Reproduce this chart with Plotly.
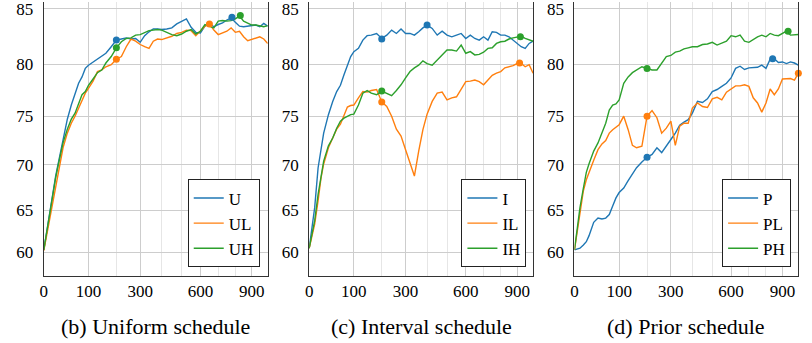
import plotly.graph_objects as go

# ---------------- data ----------------
steps = [0, 5, 10, 15, 20, 30, 40, 50, 60, 70, 80, 90, 100,
         115, 130, 145, 160,
         180, 200, 220, 240, 260, 280, 300,
         320, 340, 360, 380, 400,
         425, 450, 475, 500, 525, 550, 575, 600, 625, 650, 675, 700,
         725, 750, 775, 800, 825, 850, 875, 900, 925, 950, 975, 1000]

U = [60.3, 64.6, 66.8, 68.8, 70.2, 72.8, 74.7, 76.1, 77.1, 78.2, 78.8, 79.6, 79.9,
     80.2, 80.5, 80.8, 81.0,
     81.6, 82.2, 82.3, 82.4, 82.3, 82.35, 82.0,
     82.6, 82.95, 83.2, 83.2, 83.15,
     83.2, 83.3, 83.65, 83.85, 84.1, 83.35, 82.9, 82.85, 83.45, 83.7, 83.4, 83.6,
     83.75, 84.0, 84.2, 83.8, 83.45, 83.4, 83.45, 83.55, 83.55, 83.4, 83.7, 83.45]
UL = [60.2, 63.8, 66.1, 67.9, 69.5, 71.8, 73.3, 74.3, 75.0, 75.8, 76.45, 77.25, 77.7,
      78.4, 79.3, 79.45, 79.75,
      79.95, 80.45, 80.7, 81.6, 82.3, 82.1, 81.8,
      81.6, 81.45, 82.1, 82.3, 82.25,
      82.4, 82.55, 82.8, 82.9, 83.1, 83.05, 82.6, 83.0, 83.45, 83.65, 83.1, 82.7,
      82.85, 83.0, 83.3, 82.9, 83.0, 82.5, 82.15, 82.25, 82.4, 82.5, 82.3, 81.9]
UH = [60.3, 64.5, 66.7, 68.6, 70.0, 72.3, 73.7, 74.7, 75.3, 76.3, 77.1, 77.4, 78.0,
      78.6, 79.2, 79.45, 80.1,
      80.7, 81.5, 82.05, 82.35, 82.4, 82.65, 82.7,
      82.9, 83.05, 83.1, 83.15, 83.1,
      82.9, 82.7, 82.6, 82.75, 83.0, 83.15, 82.75, 83.0, 83.6, 83.45, 83.3, 83.9,
      83.95, 83.9, 83.95, 84.1, 84.35, 83.9, 83.75, 83.55, 83.55, 83.45, 83.4, 83.5]

I = [60.5, 65.3, 69.7, 71.8, 73.3, 75.15, 76.45, 77.4, 78.0, 79.0, 79.9, 80.7, 81.15,
     81.45, 82.2, 82.6, 82.65,
     82.8, 82.35, 82.65, 83.1, 82.8, 83.2, 82.8,
     82.8, 82.65, 82.95, 83.3, 83.55,
     83.25, 82.65, 83.0, 82.65, 82.5, 82.65, 82.8, 82.35, 82.65, 82.35, 82.2, 82.5,
     82.2, 82.95, 82.9, 82.65, 82.65, 82.5, 82.2, 81.85, 81.6, 81.45, 81.9, 82.1]
IL = [60.5, 63.4, 66.1, 68.6, 70.1, 71.8, 72.8, 73.7, 74.2, 75.0, 75.9, 76.05, 76.1,
      76.8, 77.4, 77.35, 77.5,
      77.6, 76.4, 75.95, 75.0, 73.7, 73.0, 71.6,
      70.1, 68.8, 71.45, 73.65, 75.2,
      76.45, 77.25, 77.35, 76.6, 76.8, 76.9, 77.6, 78.35, 78.4, 78.5, 78.35, 78.05,
      78.5, 78.95, 79.15, 79.3, 79.65, 79.75, 79.85, 80.05, 80.05, 79.75, 79.95, 79.15]
IH = [60.5, 63.8, 66.8, 69.0, 70.4, 72.0, 72.8, 73.8, 74.5, 74.8, 75.0, 75.15, 75.2,
      76.1, 77.25, 77.5, 77.25,
      77.1, 77.45, 77.25, 77.0, 77.5, 78.05, 78.7,
      79.3, 79.65, 79.9, 80.3, 80.05,
      79.9, 80.4, 80.85, 81.3, 81.3, 81.2, 81.75, 81.0, 81.15, 80.85, 80.9, 81.1,
      81.45, 81.5, 81.9, 82.05, 82.1, 82.3, 82.4, 82.5, 82.55, 82.35, 82.2, 82.1]

P = [60.3, 60.5, 60.9, 61.3, 62.0, 63.6, 64.1, 64.0, 64.1, 64.5, 65.5, 66.4, 67.0,
     67.5, 68.3, 69.05, 69.7,
     70.3, 70.8, 71.1, 71.8, 71.3, 72.05, 72.65,
     73.3, 74.1, 74.4, 74.65, 75.3,
     76.45, 76.35, 76.7, 77.4, 77.6, 77.9, 78.2, 78.7, 79.6, 79.8, 79.5, 79.65,
     79.7, 79.7, 79.9, 79.6, 80.45, 80.5, 80.15, 80.2, 80.05, 80.2, 80.1, 79.9]
PL = [60.3, 65.0, 67.2, 68.4, 69.2, 70.5, 71.6, 72.2, 72.55, 73.3, 73.65, 73.9, 74.15,
      75.0, 73.65, 72.05, 71.8,
      71.95, 75.0, 75.55, 74.85, 73.3, 73.8, 74.5,
      72.05, 74.0, 74.3, 74.3, 75.8,
      76.3, 75.95, 75.85, 76.7, 76.85, 76.6, 77.35, 77.65, 77.95, 77.95, 78.05, 77.9,
      76.8, 76.3, 75.4, 76.3, 77.65, 77.1, 77.65, 78.6, 78.6, 78.65, 78.5, 79.15]
PH = [60.3, 65.3, 67.5, 69.2, 70.1, 71.45, 72.3, 73.3, 74.3, 75.6, 76.1, 76.2, 76.6,
      78.2, 78.8, 79.2, 79.45,
      79.75, 79.6, 79.45, 79.45, 80.05, 80.7, 80.8,
      81.1, 81.2, 81.4, 81.5, 81.6,
      81.6, 81.8, 81.85, 82.0, 81.75, 81.95, 82.1, 82.6, 82.5, 82.65, 82.1, 82.0,
      82.25, 82.5, 82.65, 82.5, 82.8, 82.65, 82.6, 82.8, 83.0, 82.65, 82.7, 82.7]

# highlighted points (step, accuracy)
U_pts_x, U_pts_y = [200, 780], [82.2, 84.25]
UL_pts_x, UL_pts_y = [200, 650], [80.45, 83.65]
UH_pts_x, UH_pts_y = [200, 830], [81.5, 84.4]
I_pts_x, I_pts_y = [200, 400], [82.3, 83.55]
IL_pts_x, IL_pts_y = [200, 915], [76.4, 80.1]
IH_pts_x, IH_pts_y = [200, 920], [77.45, 82.5]
P_pts_x, P_pts_y = [200, 840], [70.8, 80.5]
PL_pts_x, PL_pts_y = [200, 1000], [75.0, 79.15]
PH_pts_x, PH_pts_y = [200, 935], [79.6, 83.0]

x_ticks = [0, 100, 300, 600, 900]
x_minor = [200, 400, 500, 700, 800]
y_ticks = [60, 65, 70, 75, 80, 85]
captions = ["(b) Uniform schedule", "(c) Interval schedule", "(d) Prior schedule"]

# ---------------- axis transforms (power scales) ----------------
XP = 0.7
YP = 2.0
def tx(v):
    return [a ** XP for a in v]
def ty(v):
    return [a ** YP for a in v]

BLUE, ORANGE, GREEN = "#1f77b4", "#ff7f0e", "#2ca02c"
FONT = '"Liberation Serif", "Times New Roman", "DejaVu Serif", serif'

panels = [
    [("U", U, U_pts_x, U_pts_y, BLUE), ("UL", UL, UL_pts_x, UL_pts_y, ORANGE), ("UH", UH, UH_pts_x, UH_pts_y, GREEN)],
    [("I", I, I_pts_x, I_pts_y, BLUE), ("IL", IL, IL_pts_x, IL_pts_y, ORANGE), ("IH", IH, IH_pts_x, IH_pts_y, GREEN)],
    [("P", P, P_pts_x, P_pts_y, BLUE), ("PL", PL, PL_pts_x, PL_pts_y, ORANGE), ("PH", PH, PH_pts_x, PH_pts_y, GREEN)],
]

W, H = 812, 343
left_px = [40, 306.7, 573.3]
plot_w = 225
bottom_px = 276

fig = go.Figure()
layout = dict(width=W, height=H, margin=dict(l=0, r=0, t=0, b=0, pad=0),
              paper_bgcolor="white", plot_bgcolor="white",
              font=dict(family=FONT, color="black", size=17),
              annotations=[])

legend_right_px = [257, 525, 791]
for k, series in enumerate(panels):
    n = "" if k == 0 else str(k + 1)
    xa, ya = "x" + n, "y" + n
    lg = "legend" + n
    for name, vals, px_, py_, col in series:
        fig.add_trace(go.Scatter(x=tx(steps), y=ty(vals), mode="lines", name=name,
                                 line=dict(color=col, width=1.4), xaxis=xa, yaxis=ya,
                                 legend=lg, legendgroup=name, showlegend=True))
    for name, vals, px_, py_, col in series:
        fig.add_trace(go.Scatter(x=tx(px_), y=ty(py_), mode="markers",
                                 marker=dict(color=col, size=7), xaxis=xa, yaxis=ya,
                                 showlegend=False, cliponaxis=False))
    x0 = left_px[k] / W
    x1 = (left_px[k] + plot_w) / W
    layout["xaxis" + n] = dict(
        domain=[x0, x1], anchor=ya, range=[0, 1000 ** XP],
        tickmode="array", tickvals=tx(x_ticks), ticktext=[str(t) for t in x_ticks],
        showgrid=True, gridcolor="#cdcdcd", gridwidth=1,
        minor=dict(tickmode="array", tickvals=tx(x_minor), showgrid=True,
                   gridcolor="#e6e6e6", gridwidth=1, ticks=""),
        showline=True, linecolor="#333333", linewidth=1.2, mirror=False,
        zeroline=False, ticks="", tickfont=dict(size=17, family=FONT),
        ticklabelstandoff=-1, ticklabeloverflow="allow")
    layout["yaxis" + n] = dict(
        domain=[1 - bottom_px / H, 1.0], anchor=xa, range=[56.93 ** YP, 85.58 ** YP],
        tickmode="array", tickvals=ty(y_ticks), ticktext=[str(t) for t in y_ticks],
        showgrid=True, gridcolor="#cdcdcd", gridwidth=1,
        showline=True, linecolor="#333333", linewidth=1.2, mirror=True,
        zeroline=False, ticks="", tickfont=dict(size=17, family=FONT),
        ticklabelstandoff=6, ticklabeloverflow="allow")
    layout[lg] = dict(x=legend_right_px[k] / W, xanchor="right",
                      y=1 - 267 / H, yanchor="bottom",
                      bgcolor="white", bordercolor="#222222", borderwidth=1,
                      font=dict(size=17, family=FONT), tracegroupgap=0,
                      itemwidth=30)
    layout["annotations"].append(dict(
        text=captions[k], x=(left_px[k] + plot_w / 2) / W, y=1 - 326 / H,
        xref="paper", yref="paper", xanchor="center", yanchor="middle",
        showarrow=False, font=dict(size=22, family=FONT)))

fig.update_layout(**layout)
fig.write_html("out.html", config={"displayModeBar": False},
               post_script="document.body.style.margin='0';document.body.style.padding='0';")
